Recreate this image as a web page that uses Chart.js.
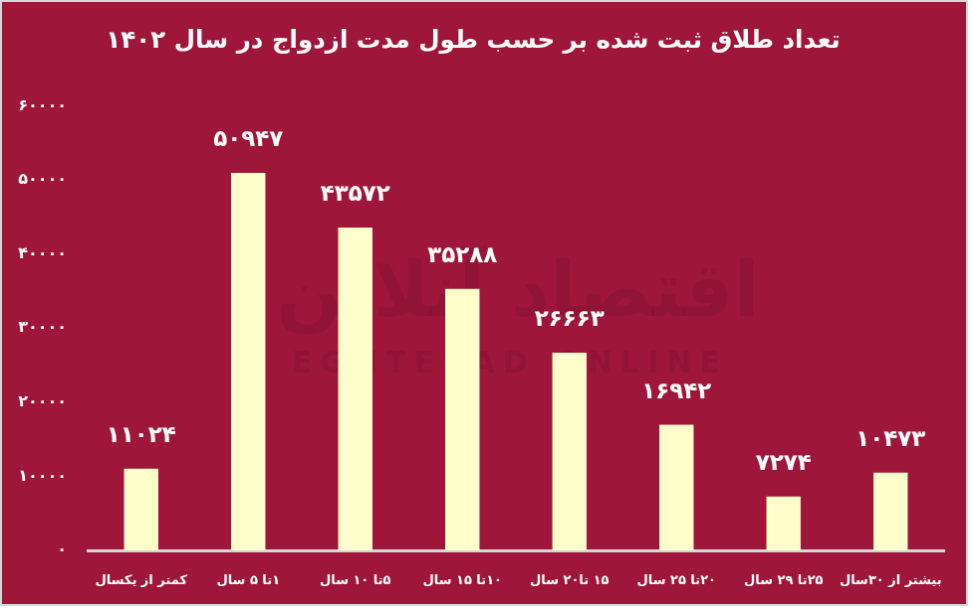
<!DOCTYPE html>
<html lang="fa">
<head>
<meta charset="utf-8">
<script src="https://cdn.jsdelivr.net/npm/chart.js@4.4.1/dist/chart.umd.min.js"></script>
<style>
    body { margin: 0; background: #ffffff; }
    #divorceChart { display: block; border: 2px solid #d6d6d6; background: #9e173b; }
</style>
</head>
<body>
<canvas id="divorceChart" dir="rtl" width="968" height="606"></canvas>
<script>
// ===== DATA =====
const chartTitle = "تعداد طلاق ثبت شده بر حسب طول مدت ازدواج در سال ۱۴۰۲";
const categories = [
    "کمتر از یکسال",
    "۱تا ۵ سال",
    "۵تا ۱۰ سال",
    "۱۰تا ۱۵ سال",
    "۱۵ تا۲۰ سال",
    "۲۰تا ۲۵ سال",
    "۲۵تا ۲۹ سال",
    "بیشتر از ۳۰سال",
];
const divorceCounts = [11024, 50947, 43572, 35288, 26663, 16942, 7274, 10473];
const yTicks = [0, 10000, 20000, 30000, 40000, 50000, 60000];

const FONT = "'DejaVu Sans', sans-serif";

function toPersian(n) {
    const digits = "۰۱۲۳۴۵۶۷۸۹";
    return String(n).replace(/\d/g, (d) => digits[d]);
}

// faint site watermark behind the bars
const watermark = {
    id: "watermark",
    beforeDatasetsDraw(chart) {
        const ctx = chart.ctx;
        ctx.save();
        ctx.fillStyle = "rgba(60, 0, 20, 0.13)";
        ctx.textAlign = "center";
        ctx.textBaseline = "middle";
        ctx.font = "bold 76px " + FONT;
        ctx.fillText("اقتصاد آنلاین", 518, 296);
        ctx.font = "bold 30px " + FONT;
        ctx.letterSpacing = "8px";
        ctx.fillText("EGHTESAD ONLINE", 510, 365);
        ctx.restore();
    },
};

// value labels above the bars
const barLabels = {
    id: "barLabels",
    afterDatasetsDraw(chart) {
        const ctx = chart.ctx;
        const meta = chart.getDatasetMeta(0);
        ctx.save();
        ctx.fillStyle = "#ffffff";
        ctx.font = "bold 23px " + FONT;
        ctx.letterSpacing = "1px";
        ctx.textAlign = "center";
        ctx.textBaseline = "middle";
        meta.data.forEach((bar, i) => {
            ctx.fillText(toPersian(divorceCounts[i]), bar.x, bar.y - 33);
        });
        ctx.restore();
    },
};

new Chart(document.getElementById("divorceChart"), {
    type: "bar",
    data: {
        labels: categories,
        datasets: [
            {
                data: divorceCounts,
                backgroundColor: "#ffffcc",
                borderWidth: 0,
                categoryPercentage: 1,
                barPercentage: 0.32,
            },
        ],
    },
    options: {
        responsive: false,
        animation: false,
        layout: { padding: { left: 0, right: 22, top: 0, bottom: 0 } },
        plugins: {
            legend: { display: false },
            tooltip: { enabled: false },
            title: {
                display: true,
                text: chartTitle,
                color: "#ffffff",
                font: { family: FONT, size: 24.5, weight: "bold" },
                padding: { top: 25, bottom: 50 },
            },
        },
        scales: {
            x: {
                grid: { display: false, drawTicks: false },
                border: { display: true, color: "#d6d6d6", width: 3 },
                ticks: {
                    color: "#ffffff",
                    font: { family: FONT, size: 13, weight: "bold" },
                    padding: 23,
                    maxRotation: 0,
                    autoSkip: false,
                },
                afterFit: (scale) => { scale.height = 54; },
            },
            y: {
                min: 0,
                max: 60000,
                afterBuildTicks: (scale) => {
                    scale.ticks = yTicks.map((v) => ({ value: v }));
                },
                grid: { display: false, drawTicks: false },
                border: { display: false },
                ticks: {
                    color: "#ffffff",
                    font: { family: FONT, size: 16, weight: "bold" },
                    padding: 21,
                    callback: (v) => toPersian(v),
                },
                afterFit: (scale) => { scale.width = 86; },
            },
        },
    },
    plugins: [watermark, barLabels],
});
</script>
</body>
</html>
